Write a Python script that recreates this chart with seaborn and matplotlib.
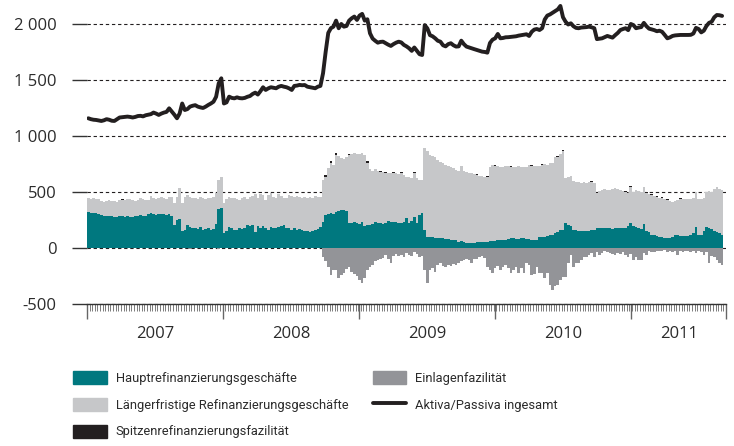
import numpy as np
import pandas as pd
import matplotlib
matplotlib.use('Agg')
import matplotlib.pyplot as plt
import seaborn as sns
from matplotlib.patches import Patch
from matplotlib.lines import Line2D
from matplotlib.ticker import FixedLocator

# Weekly Eurosystem balance sheet items (EUR bn), first week of 2007 to Aug 2011
# Aktiva/Passiva ingesamt
total = (
    [1158, 1150, 1145, 1143, 1138, 1134, 1140, 1150, 1145, 1136, 1134, 1150, 1165,
     1168, 1170, 1173, 1170, 1165, 1170, 1178, 1180, 1175, 1185, 1190, 1195, 1209,
     1200, 1188, 1200, 1209, 1215, 1247, 1218, 1190, 1158, 1200, 1290, 1232, 1240,
     1262, 1270, 1275, 1262, 1255, 1250, 1262, 1277, 1290, 1306, 1350, 1470, 1515]
    + [1290, 1300, 1351, 1340, 1336, 1345, 1338, 1336, 1340, 1350, 1357, 1375, 1387,
       1370, 1400, 1435, 1411, 1425, 1435, 1430, 1426, 1440, 1447, 1440, 1435, 1425,
       1411, 1447, 1450, 1456, 1453, 1455, 1440, 1435, 1430, 1426, 1440, 1447, 1560,
       1750, 1920, 1962, 1976, 2030, 1962, 2000, 1976, 1982, 2030, 2051, 2066, 2036]
    + [2075, 2090, 2030, 2042, 1917, 1870, 1850, 1833, 1840, 1842, 1828, 1815, 1804,
       1820, 1833, 1842, 1835, 1813, 1800, 1783, 1760, 1790, 1760, 1730, 1723, 1990,
       1960, 1900, 1890, 1872, 1850, 1842, 1810, 1800, 1820, 1828, 1810, 1798, 1800,
       1851, 1820, 1798, 1790, 1783, 1775, 1768, 1760, 1753, 1750, 1744, 1830, 1860]
    + [1872, 1911, 1872, 1875, 1881, 1882, 1885, 1887, 1890, 1896, 1900, 1905, 1908,
       1893, 1930, 1950, 1955, 1946, 1962, 2040, 2075, 2085, 2100, 2115, 2130, 2161,
       2060, 2020, 1995, 2006, 1980, 1965, 1962, 1968, 1970, 1972, 1976, 1970, 1962,
       1865, 1868, 1872, 1882, 1893, 1885, 1878, 1900, 1920, 1946, 1955, 1962, 1945]
    + [2000, 1990, 1962, 1968, 1972, 2010, 1980, 1958, 1952, 1945, 1935, 1940, 1930,
       1902, 1872, 1880, 1893, 1898, 1900, 1902, 1902, 1902, 1902, 1903, 1915, 1965,
       1955, 1925, 1940, 1982, 2010, 2020, 2060, 2080, 2078, 2072]
)

# Hauptrefinanzierungsgeschäfte
mro = (
    [324, 315, 312, 310, 300, 295, 290, 285, 288, 282, 280, 278, 282, 285, 280, 283,
     280, 278, 282, 290, 295, 288, 290, 300, 310, 305, 298, 300, 304, 300, 295, 300,
     290, 205, 250, 255, 150, 160, 205, 185, 176, 180, 170, 185, 165, 170, 175, 160,
     170, 214, 345, 357]
    + [134, 150, 188, 175, 165, 160, 175, 170, 178, 205, 200, 205, 140, 195, 180, 200,
       175, 165, 188, 180, 175, 190, 200, 205, 175, 180, 160, 175, 165, 170, 160, 155,
       150, 143, 155, 160, 170, 188, 230, 295, 300, 312, 300, 321, 330, 339, 335, 330,
       225, 223, 232, 223]
    + [215, 230, 196, 205, 205, 215, 232, 225, 220, 215, 225, 240, 230, 228, 232, 225,
       223, 235, 268, 225, 240, 277, 225, 295, 312, 160, 100, 98, 95, 90, 92, 89,
       85, 80, 78, 71, 75, 68, 55, 60, 52, 48, 45, 45, 47, 52, 52, 54,
       55, 55, 58, 60]
    + [62, 71, 75, 70, 72, 78, 85, 89, 80, 82, 85, 88, 80, 80, 75, 71,
       72, 98, 95, 98, 105, 116, 120, 134, 140, 160, 165, 223, 205, 200, 165, 160,
       155, 152, 152, 155, 152, 158, 160, 180, 175, 178, 179, 175, 180, 170, 178, 175,
       178, 182, 179, 195]
    + [223, 195, 185, 180, 170, 214, 150, 140, 120, 116, 110, 101, 100, 90, 86, 88,
       95, 116, 115, 110, 107, 105, 110, 115, 134, 190, 120, 116, 150, 190, 175, 170,
       150, 146, 130, 116]
)

# Längerfristige Refinanzierungsgeschäfte
ltro = (
    [119, 125, 131, 126, 134, 125, 124, 138, 137, 138, 138, 136, 143, 144, 152, 151,
     154, 152, 140, 135, 148, 150, 135, 130, 154, 145, 142, 145, 154, 148, 145, 158,
     165, 194, 208, 278, 250, 298, 268, 270, 270, 266, 270, 270, 281, 270, 275, 286,
     285, 277, 262, 277]
    + [268, 285, 267, 275, 281, 280, 254, 280, 277, 235, 255, 255, 342, 251, 300, 270,
       255, 305, 303, 275, 275, 292, 260, 245, 271, 290, 300, 280, 300, 285, 290, 303,
       300, 312, 293, 300, 282, 270, 377, 339, 414, 447, 441, 509, 490, 464, 460, 485,
       605, 616, 616, 617]
    + [624, 615, 634, 555, 500, 473, 473, 465, 459, 460, 445, 432, 438, 442, 438, 440,
       445, 415, 366, 405, 385, 393, 400, 312, 298, 733, 770, 732, 730, 722, 694, 681,
       674, 660, 654, 654, 639, 632, 635, 672, 636, 632, 625, 623, 613, 600, 593, 589,
       581, 579, 665, 681]
    + [673, 664, 648, 655, 658, 654, 640, 634, 645, 646, 638, 637, 643, 661, 660, 661,
       660, 637, 645, 652, 640, 643, 640, 678, 675, 679, 701, 402, 429, 440, 435, 429,
       430, 428, 433, 427, 437, 432, 420, 311, 335, 340, 348, 345, 338, 355, 358, 350,
       340, 328, 321, 296]
    + [322, 305, 333, 330, 330, 331, 341, 340, 350, 344, 345, 349, 346, 350, 343, 332,
       320, 304, 315, 327, 328, 332, 325, 322, 311, 310, 320, 324, 296, 310, 330, 330,
       380, 399, 400, 402]
)

# Spitzenrefinanzierungsfazilität (week index: value, all other weeks ~0)
mlf_weeks = {13: 10, 91: 20, 93: 15, 95: 15, 100: 8, 107: 15, 112: 10, 114: 10,
             117: 8, 120: 8, 125: 10, 149: 8, 153: 8, 156: 10, 162: 8, 170: 8,
             174: 8, 180: 10, 182: 10, 193: 8, 195: 8, 206: 8, 208: 10, 214: 6,
             216: 8, 218: 8, 220: 8, 222: 6, 227: 8}

# Einlagenfazilität (negative)
deposit = (
    [0] * 39 + [-10] + [0] * 10 + [-10, 0]
    + [0] * 38
    + [-80, -120, -170, -241, -196, -200, -268, -240, -223, -190, -170, -210, -230, -250]
    + [-286, -313, -270, -200, -170, -150, -120, -107, -95, -90, -62, -100, -134,
       -70, -50, -75, -60, -80, -45, -60, -70, -40, -55, -80, -70, -200, -313, -196,
       -180, -214, -150, -134, -160, -170, -150, -160, -140, -150, -134, -120, -110,
       -100, -110, -134, -95, -100, -80, -70, -90, -170, -200, -223]
    + [-180, -160, -196, -170, -150, -180, -223, -200, -170, -223, -180, -223, -134,
       -150, -241, -230, -170, -223, -223, -268, -223, -330, -375, -340, -330, -286,
       -259, -259, -134, -62, -170, -134, -134, -107, -80, -80, -62, -45, -80, -40,
       -60, -45, -30, -40, -45, -55, -60, -45, -50, -40, -60, -80]
    + [-55, -107, -80, -107, -107, -45, -60, -30, -35, -40, -30, -25, -30, -20, -35,
       -30, -40, -30, -62, -30, -35, -25, -30, -35, -30, -45, -30, -35, -62, -40,
       -134, -70, -80, -107, -134, -152]
)

years = [2007, 2008, 2009, 2010, 2011]
ytick_values = [-500, 0, 500, 1000, 1500, 2000]
ytick_labels = ['-500', '0', '500', '1 000', '1 500', '2 000']

C_MRO = '#00787f'
C_LTRO = '#c6c7c9'
C_MLF = '#231f20'
C_DEP = '#939498'
C_LINE = '#231f20'
C_TXT = '#2b2b2b'

n = len(total)
mlf = np.zeros(n)
for k, v in mlf_weeks.items():
    mlf[k] = v

df = pd.DataFrame({'week': np.arange(n), 'mro': mro, 'ltro': ltro, 'mlf': mlf,
                   'dep': deposit, 'total': total})
df['upper'] = df['mro'] + df['ltro']
df['top'] = df['upper'] + df['mlf']

sns.set_style('white')
plt.rcParams['font.family'] = ['Open Sans', 'DejaVu Sans']

fig = plt.figure(figsize=(7.34, 4.46), dpi=100)
ax = fig.add_axes([87 / 734, 1 - 304 / 446, 639 / 734, 304 / 446])

# stacked bars by overdrawing cumulative totals
bar_kw = dict(native_scale=True, width=1, errorbar=None, saturation=1,
              linewidth=0, antialiased=False, ax=ax)
sns.barplot(data=df, x='week', y='dep', color=C_DEP, **bar_kw)
sns.barplot(data=df, x='week', y='top', color=C_MLF, **bar_kw)
sns.barplot(data=df, x='week', y='upper', color=C_LTRO, **bar_kw)
sns.barplot(data=df, x='week', y='mro', color=C_MRO, **bar_kw)
sns.lineplot(data=df, x='week', y='total', color=C_LINE, lw=2.8, ax=ax,
             solid_joinstyle='round', solid_capstyle='round')

ax.set_xlim(-0.5, n + 0.5)
ax.set_ylim(-500, 2214)
ax.set_xlabel('')
ax.set_ylabel('')
for s in ['top', 'right', 'left']:
    ax.spines[s].set_visible(False)
ax.spines['bottom'].set_color('#333333')
ax.spines['bottom'].set_linewidth(1.0)

ax.set_yticks(ytick_values)
ax.set_yticklabels(ytick_labels)
ax.tick_params(axis='y', left=True, length=10.8, width=1, color='#333333', pad=11,
               labelsize=12, labelcolor=C_TXT)
ax.yaxis.grid(True, color=C_LINE, lw=0.8, ls=(0, (3, 2.5)))
ax.xaxis.grid(False)
ax.set_axisbelow(True)

base = pd.Timestamp('2007-01-01')
edges = [(pd.Timestamp(f'{y}-01-01') - base).days / 7 - 0.5 for y in years]
ax.xaxis.set_major_locator(FixedLocator(edges + [n + 0.5]))
ax.xaxis.set_minor_locator(FixedLocator(np.arange(-0.5, n + 1, 1)))
ax.set_xticklabels([])
ax.tick_params(axis='x', which='both', bottom=True)
ax.tick_params(axis='x', which='major', length=10.8, width=1, color='#666666')
ax.tick_params(axis='x', which='minor', length=4.8, width=0.6, color='#666666')

bounds = edges + [n + 0.5]
for i, y in enumerate(years):
    ax.text((bounds[i] + bounds[i + 1]) / 2, -0.1, str(y), transform=ax.get_xaxis_transform(),
            ha='center', va='center', fontsize=12, color=C_TXT)

handles = [
    Patch(color=C_MRO, label='Hauptrefinanzierungsgeschäfte'),
    Patch(color=C_LTRO, label='Längerfristige Refinanzierungsgeschäfte'),
    Patch(color=C_MLF, label='Spitzenrefinanzierungsfazilität'),
    Patch(color=C_DEP, label='Einlagenfazilität'),
    Line2D([], [], color=C_LINE, lw=2.8, label='Aktiva/Passiva ingesamt'),
]
leg = fig.legend(handles=handles, loc='upper left', bbox_to_anchor=(73 / 734, 1 - 371 / 446),
                 ncol=2, frameon=False,
                 prop={'family': ['Roboto', 'DejaVu Sans'], 'size': 9.3},
                 handlelength=2.6, handleheight=1.17, handletextpad=0.7,
                 columnspacing=1.9, labelspacing=1.0, borderpad=0, borderaxespad=0)
for t in leg.get_texts():
    t.set_color(C_TXT)

fig.savefig('out.png', dpi=100)
